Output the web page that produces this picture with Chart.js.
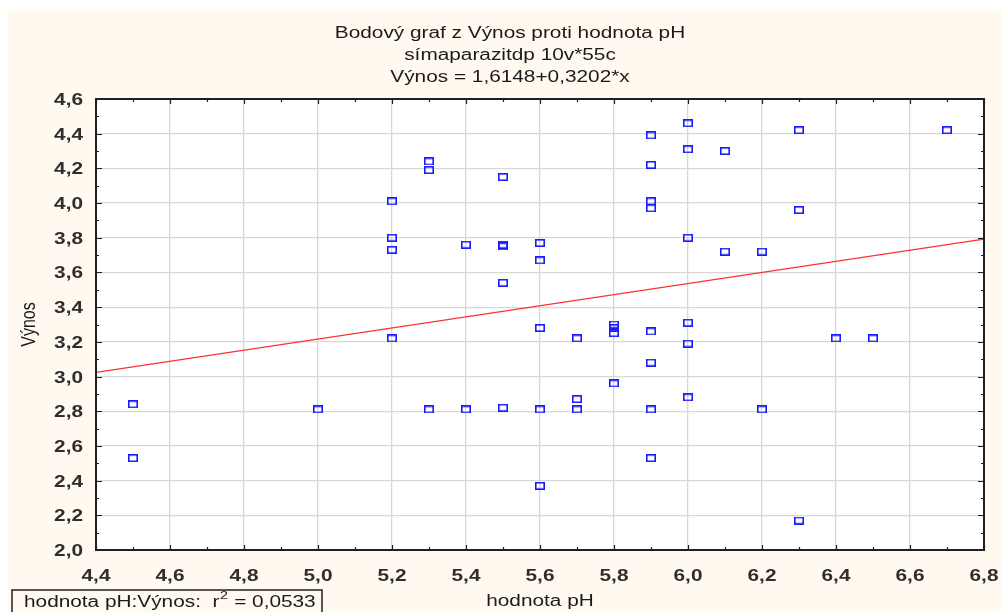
<!DOCTYPE html>
<html>
<head>
<meta charset="utf-8">
<script src="https://cdn.jsdelivr.net/npm/chart.js@4.4.1/dist/chart.umd.min.js"></script>
<style>
  html, body { margin: 0; padding: 0; background: #ffffff; }
  #graf { display: block; }
</style>
</head>
<body>
<canvas id="graf" width="1001" height="612"></canvas>
<script>
// hodnoty
const hodnotaPH = [
  4.5, 4.5, 5.0, 5.2, 5.2, 5.2, 5.2, 5.3, 5.3, 5.3,
  5.4, 5.4, 5.5, 5.5, 5.5, 5.5, 5.5, 5.6, 5.6, 5.6,
  5.6, 5.6, 5.7, 5.7, 5.7, 5.8, 5.8, 5.8, 5.8, 5.9,
  5.9, 5.9, 5.9, 5.9, 5.9, 5.9, 5.9, 6.0, 6.0, 6.0,
  6.0, 6.0, 6.0, 6.1, 6.1, 6.2, 6.2, 6.3, 6.3, 6.3,
  6.4, 6.5, 6.7
];
const vynos = [
  2.84, 2.53, 2.81, 4.01, 3.80, 3.73, 3.22, 4.24, 4.19, 2.81,
  3.76, 2.81, 4.15, 3.75, 3.76, 3.54, 2.82, 3.77, 3.67, 3.28,
  2.81, 2.37, 3.22, 2.87, 2.81, 3.30, 3.28, 3.25, 2.96, 4.39,
  4.22, 4.01, 3.97, 3.26, 3.08, 2.81, 2.53, 4.46, 4.31, 3.80,
  3.31, 3.19, 2.88, 4.30, 3.72, 3.72, 2.81, 4.42, 3.96, 2.17,
  3.22, 3.22, 4.42
];

// regrese Výnos = a + b*x
const intercept = 1.6148;
const slope = 0.3202;
const r2 = '0,0533';

const xRange = [4.4, 6.8];
const yRange = [2.0, 4.6];
const krok = 0.2;

const nadpis = [
  'Bodový graf z Výnos proti hodnota pH',
  'símaparazitdp 10v*55c',
  'Výnos = 1,6148+0,3202*x'
];
const popisX = 'hodnota pH';
const popisY = 'Výnos';

const SX = 1.3; // obrázek je vodorovně roztažený
const FONT = '"Liberation Sans", Arial, sans-serif';
const TEXT = '#1b1b1b';

const body = hodnotaPH.map((x, i) => ({ x: x, y: vynos[i] }));
const primka = xRange.map(x => ({ x: x, y: intercept + slope * x }));

function fmt(v) {
  return v.toFixed(1).replace('.', ',');
}

// ctverecek jako znacka bodu
const znacka = document.createElement('canvas');
znacka.width = 10;
znacka.height = 8;
(function () {
  const c = znacka.getContext('2d');
  c.strokeStyle = '#1a1aff';
  c.lineWidth = 1.6;
  c.strokeRect(0.8, 0.8, 8.4, 6.4);
})();

function text(ctx, s, x, y, align, font, color) {
  ctx.save();
  ctx.translate(x, y);
  ctx.scale(SX, 1);
  ctx.font = font;
  ctx.textAlign = align;
  ctx.textBaseline = 'alphabetic';
  ctx.fillStyle = color || TEXT;
  ctx.fillText(s, 0, 0);
  ctx.restore();
}

const pozadi = {
  id: 'pozadi',
  beforeDraw(chart) {
    const ctx = chart.ctx;
    const a = chart.chartArea;
    ctx.save();
    ctx.fillStyle = '#ffffff';
    ctx.fillRect(0, 0, chart.width, chart.height);
    ctx.fillStyle = '#fff9ef';
    ctx.fillRect(8, 9, chart.width - 8, chart.height - 9);
    ctx.fillStyle = '#ffffff';
    ctx.fillRect(a.left, a.top, a.right - a.left, a.bottom - a.top);
    ctx.restore();
  }
};

const popisky = {
  id: 'popisky',
  afterDraw(chart) {
    const ctx = chart.ctx;
    const a = chart.chartArea;
    const sx = chart.scales.x;
    const sy = chart.scales.y;

    // ramecek
    ctx.save();
    ctx.strokeStyle = '#202020';
    ctx.lineWidth = 2;
    ctx.strokeRect(a.left, a.top, a.right - a.left, a.bottom - a.top);

    // vnitrni carky po 0,1
    ctx.lineWidth = 1.2;
    ctx.beginPath();
    const nx = Math.round((xRange[1] - xRange[0]) / 0.1);
    for (let i = 0; i <= nx; i++) {
      const px = Math.round(sx.getPixelForValue(xRange[0] + i * 0.1)) + 0.5;
      const len = i % 2 === 0 ? 5 : 3;
      ctx.moveTo(px, a.top); ctx.lineTo(px, a.top + len);
      ctx.moveTo(px, a.bottom); ctx.lineTo(px, a.bottom - len);
    }
    const ny = Math.round((yRange[1] - yRange[0]) / 0.1);
    for (let i = 0; i <= ny; i++) {
      const py = Math.round(sy.getPixelForValue(yRange[0] + i * 0.1)) + 0.5;
      const len = i % 2 === 0 ? 6 : 3;
      ctx.moveTo(a.left, py); ctx.lineTo(a.left + len, py);
      ctx.moveTo(a.right, py); ctx.lineTo(a.right - len, py);
    }
    ctx.stroke();
    ctx.restore();

    // popisky os
    const tickFont = 'bold 16px ' + FONT;
    sx.ticks.forEach(t => {
      text(ctx, fmt(t.value), sx.getPixelForValue(t.value), 581, 'center', tickFont, '#2e2e2e');
    });
    sy.ticks.forEach(t => {
      text(ctx, fmt(t.value), a.left - 13, sy.getPixelForValue(t.value) + 6, 'right', tickFont, '#2e2e2e');
    });

    // nadpis
    const titleFont = '16px ' + FONT;
    nadpis.forEach((s, i) => text(ctx, s, 510, 38 + i * 22, 'center', titleFont));

    // nazvy os
    text(ctx, popisX, (a.left + a.right) / 2, 606, 'center', '16px ' + FONT);
    ctx.save();
    ctx.translate(35, (a.top + a.bottom) / 2);
    ctx.scale(SX, 1);
    ctx.rotate(-Math.PI / 2);
    ctx.font = '16px ' + FONT;
    ctx.textAlign = 'center';
    ctx.fillStyle = TEXT;
    ctx.fillText(popisY, 0, 0);
    ctx.restore();

    // r2 rameček
    ctx.save();
    ctx.strokeStyle = '#202020';
    ctx.lineWidth = 1.5;
    ctx.strokeRect(12, 590, 310, 30);
    ctx.restore();
    const f = '16px ' + FONT;
    const fSup = '11px ' + FONT;
    const part1 = 'hodnota pH:Výnos:  r';
    const part2 = ' = ' + r2;
    ctx.save();
    ctx.font = f;
    const w1 = ctx.measureText(part1).width * SX;
    ctx.font = fSup;
    const w2 = ctx.measureText('2').width * SX;
    ctx.restore();
    let x0 = 24;
    text(ctx, part1, x0, 607, 'left', f);
    text(ctx, '2', x0 + w1 + 0.5, 599, 'left', fSup);
    text(ctx, part2, x0 + w1 + w2 + 1, 607, 'left', f);
  }
};

const ctx = document.getElementById('graf').getContext('2d');
new Chart(ctx, {
  type: 'scatter',
  data: {
    datasets: [
      {
        label: 'Výnos',
        data: body,
        pointStyle: znacka,
        pointRadius: 5,
        showLine: false
      },
      {
        label: 'regrese',
        type: 'line',
        data: primka,
        borderColor: '#ff3030',
        borderWidth: 1.4,
        pointRadius: 0,
        fill: false
      }
    ]
  },
  options: {
    responsive: false,
    animation: false,
    devicePixelRatio: 1,
    layout: { padding: { top: 99, right: 17, left: 0, bottom: 0 } },
    plugins: { legend: { display: false }, tooltip: { enabled: false }, title: { display: false } },
    scales: {
      x: {
        type: 'linear',
        min: xRange[0],
        max: xRange[1],
        ticks: { stepSize: krok, display: false },
        grid: { color: '#d8d8d8', lineWidth: 1.3, drawTicks: false },
        border: { display: false },
        afterFit: s => { s.height = 62; }
      },
      y: {
        type: 'linear',
        min: yRange[0],
        max: yRange[1],
        ticks: { stepSize: krok, display: false },
        grid: { color: '#d8d8d8', lineWidth: 1.3, drawTicks: false },
        border: { display: false },
        afterFit: s => { s.width = 96; }
      }
    }
  },
  plugins: [pozadi, popisky]
});
</script>
</body>
</html>
